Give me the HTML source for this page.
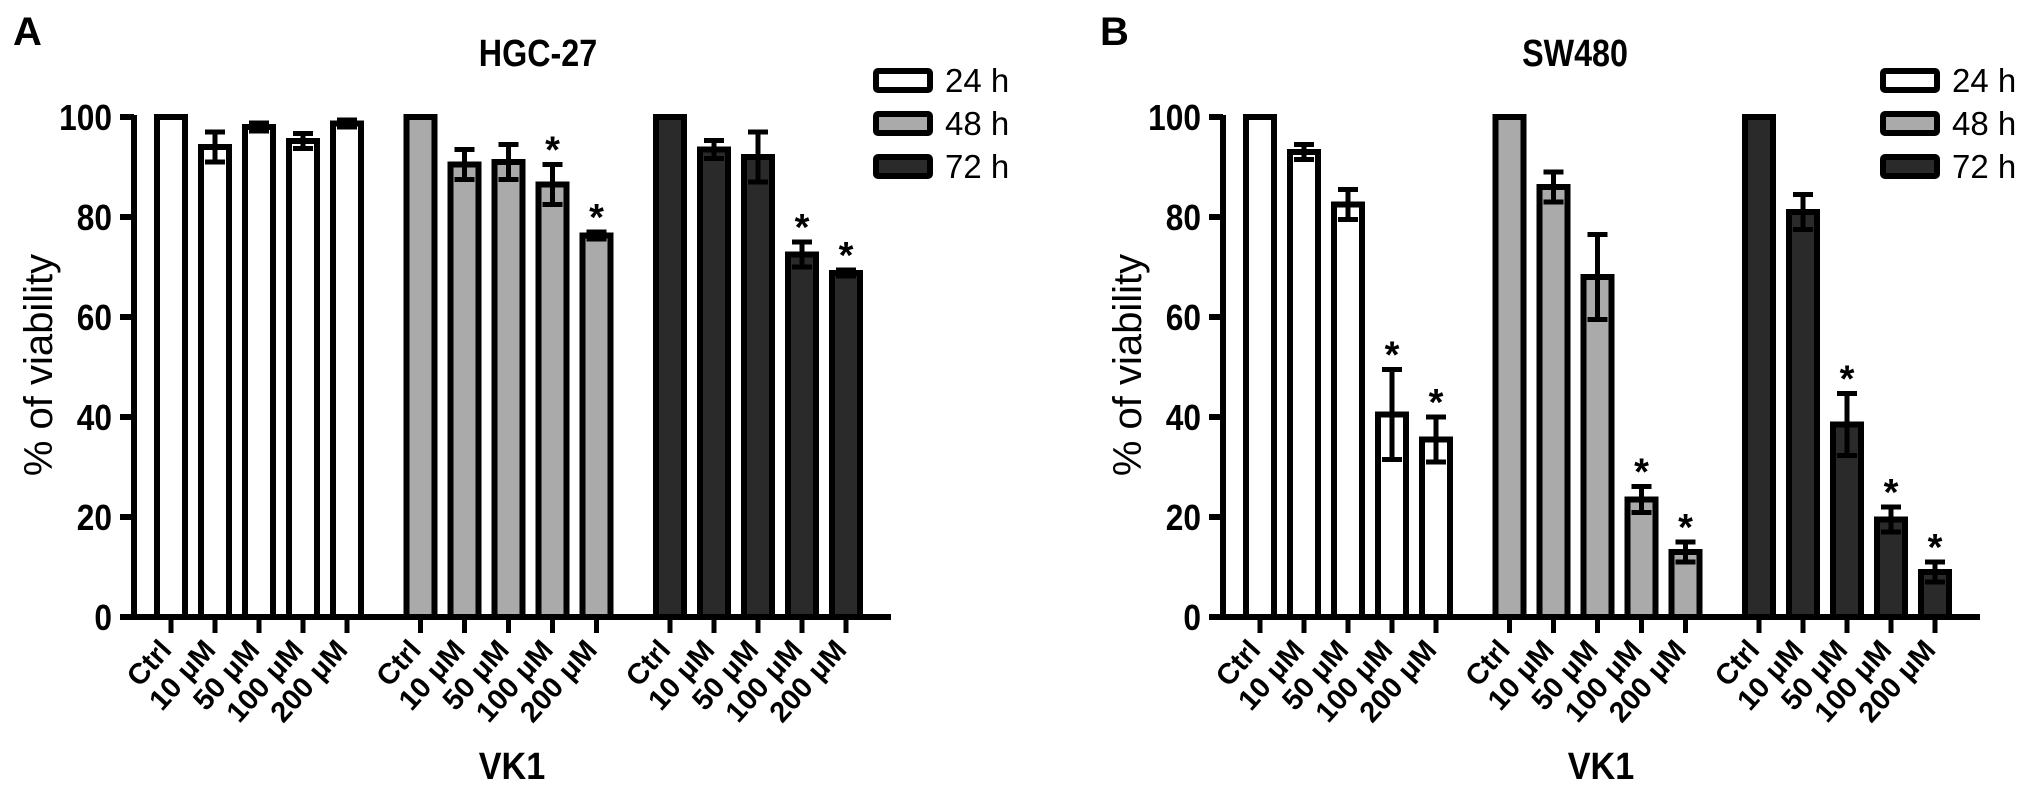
<!DOCTYPE html>
<html><head><meta charset="utf-8"><style>
html,body{margin:0;padding:0;background:#fff;}
svg{display:block;font-family:"Liberation Sans",Arial,sans-serif;}
</style></head><body>
<svg id="fig" width="2031" height="793" viewBox="0 0 2031 793" xmlns="http://www.w3.org/2000/svg"></svg>
<script>
const categories = ["Ctrl","10 μM","50 μM","100 μM","200 μM"];
const seriesNames = ["24 h","48 h","72 h"];
const yTicks = [0,20,40,60,80,100];
// Panel A (HGC-27)
const a24 = [100,94,98,95.2,98.7];
const a48 = [100,90.5,91,86.5,76.3];
const a72 = [100,93.5,92,72.5,68.8];
const a24err = [0,3,0.8,1.5,0.7];
const a48err = [0,3,3.5,4,0.7];
const a72err = [0,1.8,5,2.5,0.6];
const a24sig = [0,0,0,0,0];
const a48sig = [0,0,0,1,1];
const a72sig = [0,0,0,1,1];
// Panel B (SW480)
const b24 = [100,93,82.5,40.5,35.5];
const b48 = [100,86,68,23.5,13];
const b72 = [100,81,38.5,19.5,9];
const b24err = [0,1.5,3,9,4.5];
const b48err = [0,3,8.5,2.6,2];
const b72err = [0,3.5,6.2,2.5,2];
const b24sig = [0,0,0,1,1];
const b48sig = [0,0,0,1,1];
const b72sig = [0,0,1,1,1];

const fills = ["#ffffff","#aaaaaa","#2a2a2a"];
const NS = "http://www.w3.org/2000/svg";
const svg = document.getElementById('fig');
function mk(tag, attrs, parent, text){
  const e = document.createElementNS(NS, tag);
  for (const k in attrs) e.setAttribute(k, attrs[k]);
  if (text !== undefined) e.textContent = text;
  (parent||svg).appendChild(e);
  return e;
}
function drawPanel(ox, letter, title, vals, errs, sigs, legX, titleX){
  const g = mk('g', {});
  
  
  const axisX = 134 + ox, y0 = 617, yTop = 117;
  const y = v => y0 - (v/100)*(y0-yTop);
  const xc = (gi, ci) => axisX + 37 + gi*249.5 + ci*44;
  const pl = mk('text', {x: 13 + ox - (letter==='B'?2:0), y: 45, 'font-size': 40, 'font-weight': 'bold'}, g, letter);
  
  
  const t = mk('text', {x: 0, y: 0, 'font-size': 38, 'font-weight': 'bold', 'text-anchor': 'middle', transform: `translate(${titleX} 66) scale(0.85 1)`}, g, title);
  
  
  for (let gi=0; gi<3; gi++){
    for (let ci=0; ci<5; ci++){
      const v = vals[gi][ci], cx = xc(gi,ci);
      const r = mk('rect', {x: cx-14, y: y(v), width: 28, height: y0-y(v), fill: fills[gi], stroke: '#000', 'stroke-width': 6}, g);
      
      
      const e = errs[gi][ci];
      if (e > 0){
        const eg = mk('g', {stroke: '#000', 'stroke-width': 5}, g);
        
        
        mk('line', {x1: cx, x2: cx, y1: y(v+e), y2: y(v-e)}, eg);
        mk('line', {x1: cx-10, x2: cx+10, y1: y(v+e), y2: y(v+e)}, eg);
        mk('line', {x1: cx-10, x2: cx+10, y1: y(v-e), y2: y(v-e)}, eg);
      }
      if (sigs[gi][ci]){
        const s = mk('text', {x: cx, y: y(v+e) - 2, 'font-size': 38, 'font-weight': 'bold', 'text-anchor': 'middle'}, g, '*');
        
        
      }
      mk('line', {x1: cx, x2: cx, y1: y0, y2: y0+16, stroke: '#000', 'stroke-width': 5}, g);
      const lx = cx + 2, ly = y0 + 34;
      const lb = mk('text', {x: lx, y: ly, 'font-size': 29, 'font-weight': 'bold', 'text-anchor': 'end', transform: `rotate(-48 ${lx} ${ly})`}, g, categories[ci]);
      
      
    }
  }
  const ax = mk('g', {stroke: '#000', 'stroke-width': 6}, g);
  
  
  mk('line', {x1: axisX, x2: axisX, y1: yTop-2, y2: y0+3}, ax);
  mk('line', {x1: axisX-3, x2: axisX+757, y1: y0, y2: y0}, ax);
  yTicks.forEach(v => {
    mk('line', {x1: axisX-14, x2: axisX, y1: y(v), y2: y(v), stroke: '#000', 'stroke-width': 6}, g);
    const tl = mk('text', {x: 0, y: 0, 'font-size': 36, 'font-weight': 'bold', 'text-anchor': 'end', transform: `translate(${axisX-22} ${y(v)+13}) scale(0.88 1)`}, g, String(v));
    
    
  });
  const yt = mk('text', {x: 0, y: 0, 'font-size': 40, 'text-anchor': 'middle', transform: `translate(${ox+52} 365) rotate(-90)`}, g, '% of viability');
  
  
  const xt = mk('text', {x: 0, y: 0, 'font-size': 38, 'font-weight': 'bold', 'text-anchor': 'middle', transform: `translate(${axisX + 378} 779) scale(0.9 1)`}, g, 'VK1');
  
  
  for (let i=0; i<3; i++){
    const ly = 68 + i*43;
    const le = mk('g', {}, g);
    
    
    mk('rect', {x: legX+3, y: ly+3, width: 54, height: 19, fill: fills[i], stroke: '#000', 'stroke-width': 6, rx: 2}, le);
    mk('text', {x: legX+72, y: ly+24, 'font-size': 33}, le, seriesNames[i]);
  }
}
drawPanel(0, 'A', 'HGC-27', [a24,a48,a72], [a24err,a48err,a72err], [a24sig,a48sig,a72sig], 873, 538);
drawPanel(1089, 'B', 'SW480', [b24,b48,b72], [b24err,b48err,b72err], [b24sig,b48sig,b72sig], 1880, 1575);
</script>
</body></html>
